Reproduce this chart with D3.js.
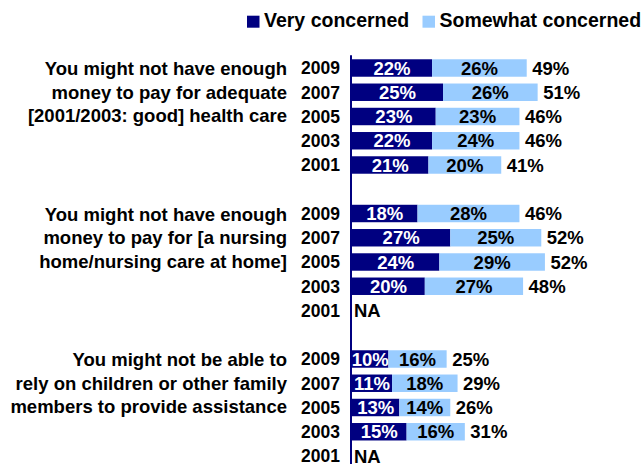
<!DOCTYPE html>
<html>
<head>
<meta charset="utf-8">
<script src="https://cdn.jsdelivr.net/npm/d3@7"></script>
<style>
  html, body { margin: 0; padding: 0; background: #fff; }
  svg { display: block; }
  text { font-family: Arial, "Liberation Sans", sans-serif; font-weight: bold; fill: #000; }
</style>
</head>
<body>
<script>
// Survey concerns about paying for care, by year
const questions = [
  ["You might not have enough", "money to pay for adequate", "[2001/2003: good] health care"],
  ["You might not have enough", "money to pay for [a nursing", "home/nursing care at home]"],
  ["You might not be able to", "rely on children or other family", "members to provide assistance"]
];
const years = ["2009", "2007", "2005", "2003", "2001"];
const seriesNames = ["Very concerned", "Somewhat concerned"];

// One row per year within each question; null = not asked (NA)
const veryConcerned = [
  [22, 25, 23, 22, 21],
  [18, 27, 24, 20, null],
  [10, 11, 13, 15, null]
];
const somewhatConcerned = [
  [26, 26, 23, 24, 20],
  [28, 25, 29, 27, null],
  [16, 18, 14, 16, null]
];
const totalConcerned = [
  [49, 51, 46, 46, 41],
  [46, 52, 52, 48, null],
  [25, 29, 26, 31, null]
];

const colors = ["#000080", "#99CCFF"];

const W = 644, H = 464;
const svg = d3.select("body").append("svg").attr("width", W).attr("height", H);

// Row keys: five years per question with a blank spacer row between questions
const rows = [];
questions.forEach((q, qi) => {
  years.forEach((yr, yi) => rows.push({ key: qi + "-" + yr, qi, yi, year: yr }));
  if (qi < questions.length - 1) rows.push({ key: "gap" + qi, gap: true });
});

const y = d3.scaleBand()
  .domain(rows.map(r => r.key))
  .range([55.875, 468.125])
  .paddingInner(0.28)
  .paddingOuter(0.14);

const x = d3.scaleLinear().domain([0, 60]).range([352, 352 + 3.64 * 60]);

const dataRows = rows.filter(r => !r.gap).map(r => ({
  ...r,
  very: veryConcerned[r.qi][r.yi],
  some: somewhatConcerned[r.qi][r.yi],
  total: totalConcerned[r.qi][r.yi]
}));

// Stacked segments
const g = svg.append("g");
dataRows.filter(d => d.very != null).forEach(d => {
  const segs = [
    { x0: 0, x1: d.very, v: d.very, c: colors[0], tc: "#fff" },
    { x0: d.very, x1: d.very + d.some, v: d.some, c: colors[1], tc: "#000" }
  ];
  segs.forEach(s => {
    g.append("rect")
      .attr("x", x(s.x0))
      .attr("y", y(d.key))
      .attr("width", x(s.x1) - x(s.x0))
      .attr("height", y.bandwidth())
      .attr("fill", s.c);
    g.append("text")
      .attr("x", (x(s.x0) + x(s.x1)) / 2)
      .attr("y", y(d.key) + y.bandwidth() / 2)
      .attr("dy", "0.36em")
      .attr("text-anchor", "middle")
      .style("font-size", "18.5px")
      .style("fill", s.tc)
      .text(s.v + "%");
  });
  g.append("text")
    .attr("x", x(d.very + d.some) + 5.5)
    .attr("y", y(d.key) + y.bandwidth() / 2)
    .attr("dy", "0.36em")
    .style("font-size", "18.5px")
    .text(d.total + "%");
});

// NA rows
dataRows.filter(d => d.very == null).forEach(d => {
  g.append("text")
    .attr("x", x(0) + 2)
    .attr("y", y(d.key) + y.bandwidth() / 2)
    .attr("dy", "0.36em")
    .style("font-size", "18.5px")
    .text("NA");
});

// Year labels
g.selectAll("text.year").data(dataRows).join("text")
  .attr("class", "year")
  .attr("x", 340)
  .attr("y", d => y(d.key) + y.bandwidth() / 2)
  .attr("dy", "0.36em")
  .attr("text-anchor", "end")
  .style("font-size", "17.5px")
  .text(d => d.year);

// Question labels, aligned with the first rows of each group
questions.forEach((q, qi) => {
  const cy = y(qi + "-" + years[0]) + y.bandwidth() / 2;
  q.forEach((line, li) => {
    g.append("text")
      .attr("x", 287)
      .attr("y", cy + 7.2 + li * 23.4)
      .attr("text-anchor", "end")
      .style("font-size", "18.5px")
      .text(line);
  });
});

// Vertical baseline
svg.append("line")
  .attr("x1", 351).attr("x2", 351)
  .attr("y1", 55.3).attr("y2", H)
  .attr("stroke", "#000080")
  .attr("stroke-width", 2);

// Legend
const legendPos = [247, 422.5];
const legend = svg.append("g");
seriesNames.forEach((name, i) => {
  legend.append("rect")
    .attr("x", legendPos[i]).attr("y", 15.7)
    .attr("width", 12.5).attr("height", 12)
    .attr("fill", colors[i]);
  legend.append("text")
    .attr("x", legendPos[i] + 17)
    .attr("y", 27)
    .style("font-size", "19.5px")
    .text(name);
});
</script>
</body>
</html>
